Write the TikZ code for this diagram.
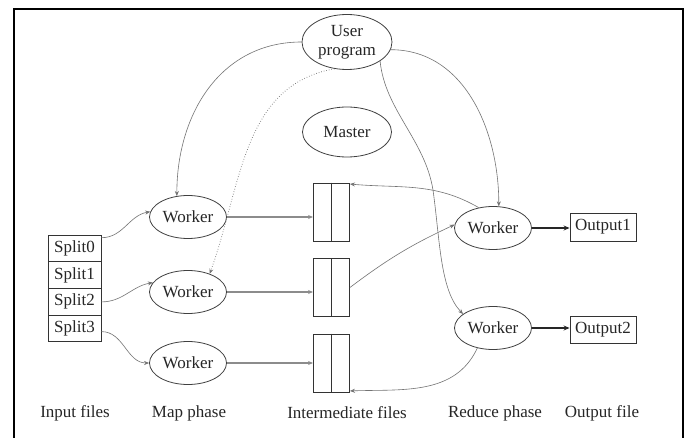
\documentclass[tikz,border=0pt]{standalone}
\usepackage{fontspec}
\setmainfont{Liberation Serif}
\usetikzlibrary{shapes.geometric,arrows.meta}
\begin{document}
\begin{tikzpicture}[x=1pt,y=1pt,
  font=\fontsize{17}{20}\selectfont,
  ell/.style={ellipse, draw=black!75, line width=0.8pt, inner sep=0pt, text=black!85},
  wk/.style={ell, minimum width=77pt, minimum height=43pt},
  fbox/.style={draw=black!80, line width=0.9pt, inner sep=0pt, text=black!85},
  split/.style={fbox, minimum width=53pt, minimum height=26.7pt},
  inter/.style={fbox, minimum width=36pt, minimum height=58pt},
  outbox/.style={fbox, minimum width=66pt, minimum height=28pt},
  conn/.style={draw=black!55, line width=0.6pt, -{Stealth[length=5pt,width=4pt]}},
  hconn/.style={draw=black!45, line width=1.4pt, -{Stealth[length=5pt,width=4pt]}},
  outc/.style={draw=black!85, line width=1.6pt, -{Stealth[length=6pt,width=5pt]}},
  lab/.style={text=black!85, anchor=center, inner sep=0pt}
]
\useasboundingbox (0,0) rectangle (691,-438);
\fill[white] (0,0) rectangle (691,-438);
\draw[line width=2.6pt] (14,-442) -- (14,-9) -- (683,-9) -- (683,-442);

% nodes
\node[ell, minimum width=90pt, minimum height=55pt, align=center] (up) at (347,-42) {User\\[-1pt]program};
\node[ell, minimum width=89pt, minimum height=50pt] (master) at (347,-132) {Master};
\node[wk] (m1) at (188,-217) {Worker};
\node[wk] (m2) at (188,-292) {Worker};
\node[wk] (m3) at (188,-363) {Worker};
\node[wk] (r1) at (493,-228) {Worker};
\node[wk] (r2) at (493,-328) {Worker};

\node[split] (s0) at (74.5,-248.5) {Split0};
\node[split] (s1) at (74.5,-275.2) {Split1};
\node[split] (s2) at (74.5,-301.9) {Split2};
\node[split] (s3) at (74.5,-328.6) {Split3};

\node[inter] (f1) at (331.5,-212) {};
\node[inter] (f2) at (331.5,-287.5) {};
\node[inter] (f3) at (331.5,-363) {};
\draw[black!80, line width=0.9pt] (f1.north) -- (f1.south);
\draw[black!80, line width=0.9pt] (f2.north) -- (f2.south);
\draw[black!80, line width=0.9pt] (f3.north) -- (f3.south);

\node[outbox] (o1) at (603,-227) {Output1};
\node[outbox, minimum height=27pt] (o2) at (603,-329.5) {Output2};

% labels
\node[lab] (l1) at (75,-413) {Input files};
\node[lab] (l2) at (189,-413) {Map phase};
\node[lab] (l3) at (347,-413) {Intermediate files};
\node[lab] (l4) at (495,-413) {Reduce phase};
\node[lab] (l5) at (602,-413) {Output file};

% user program connectors
\draw[conn] (up.west) to[out=180,in=90,looseness=1.05] (m1.118);
\draw[conn, dotted, line width=0.8pt] (up.245) to[out=190,in=70] (m2.40);
\draw[conn] (up.-10) to[out=0,in=90] (r1.75);
\draw[conn] (up.-30) .. controls (385,-110) and (425,-140) .. (433,-190)
                     .. controls (440,-240) and (440,-290) .. (r2.155);

% splits to map workers
\draw[conn] ([yshift=-3pt]s0.north east) to[out=0,in=190] (m1.172);
\draw[conn] (s2.east) to[out=0,in=190] (m2.165);
\draw[conn] ([yshift=-3pt]s3.east) to[out=0,in=180] (m3.west);

% map workers to intermediate files
\draw[hconn] (m1.east) -- (f1.west |- m1.east);
\draw[hconn] (m2.east) -- (f2.west |- m2.east);
\draw[hconn] (m3.east) -- (f3.west |- m3.east);

% intermediate files and reduce workers
\draw[conn] (r1.125) to[out=150,in=-5] ([yshift=-1.5pt]f1.north east);
\draw[conn] (f2.east) to[bend left=6] (r1.175);
\draw[conn] (r2.232) to[out=245,in=2] ([yshift=1.5pt]f3.south east);

% outputs
\draw[outc] (r1.east) -- (o1.west |- r1.east);
\draw[outc] (r2.east) -- (o2.west |- r2.east);
\end{tikzpicture}
\end{document}
